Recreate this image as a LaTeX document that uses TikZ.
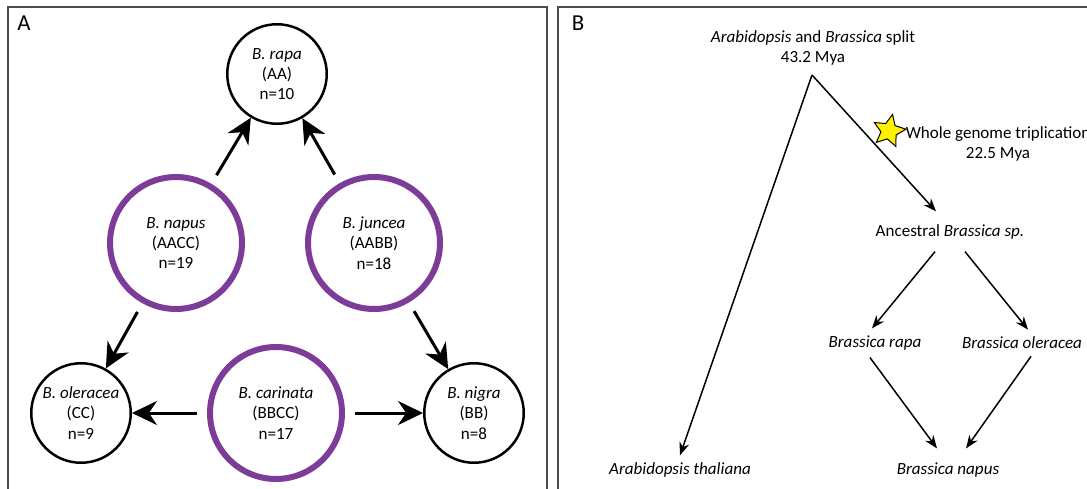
\documentclass[tikz,border=0pt]{standalone}
\usepackage{fontspec}
\setmainfont{Carlito}
\usetikzlibrary{arrows.meta,shapes.geometric}
\definecolor{hybrid}{RGB}{125,60,152}
\tikzset{
  diploid/.style={circle, draw=black, line width=0.05cm, minimum size=1.99cm, inner sep=0pt,
    align=center, font=\fontsize{9.7}{11.5}\selectfont},
  amphi/.style={diploid, draw=hybrid, line width=0.12cm, minimum size=2.64cm},
  cross/.style={line width=0.06cm, -{Stealth[length=0.5cm,width=0.48cm]}, shorten <=0.2cm},
  taxon/.style={font=\fontsize{9.7}{11.5}\selectfont, inner sep=0.14cm, align=center},
  descent/.style={line width=0.03cm, -{Stealth[length=0.26cm,width=0.2cm]}},
  panel/.style={draw=black!70, line width=0.03cm},
  panellabel/.style={font=\fontsize{13}{15}\selectfont, inner sep=0pt}
}
\begin{document}
\begin{tikzpicture}[x=0.02cm, y=-0.02cm]
\useasboundingbox (0,0) rectangle (1087,489);
\clip (0,0) rectangle (1087,489);

%two panels
\draw[panel] (8,7) rectangle (547,495);
\draw[panel] (558,7) rectangle (1095,495);
\node[panellabel] (labA) at (24,23) {A};
\node[panellabel] (labB) at (578,23) {B};

%panel A: triangle of U
\node[diploid] (rapa) at (277,74) {\textit{B. rapa}\\(AA)\\n=10};
\node[diploid] (oleracea) at (81,413) {\textit{B. oleracea}\\(CC)\\n=9};
\node[diploid] (nigra) at (474,413) {\textit{B. nigra}\\(BB)\\n=8};
\node[amphi] (napus) at (176,243) {\textit{B. napus}\\(AACC)\\n=19};
\node[amphi] (juncea) at (374,243) {\textit{B. juncea}\\(AABB)\\n=18};
\node[amphi] (carinata) at (276,413) {\textit{B. carinata}\\(BBCC)\\n=17};

\foreach \from/\to in {napus/rapa,juncea/rapa,napus/oleracea,juncea/nigra,carinata/oleracea,carinata/nigra}
  \draw[cross] (\from) -- (\to);

%panel B: history
\node[taxon] (split) at (813,48) {\textit{Arabidopsis} and \textit{Brassica} split\\43.2 Mya};
\coordinate (apex) at (812,75);
\node[taxon] (thaliana) at (680,470) {\textit{Arabidopsis thaliana}};
\node[taxon] (ancestral) at (950,232) {Ancestral \textit{Brassica sp.}};
\node[taxon] (brapa) at (875,343) {\textit{Brassica rapa}};
\node[taxon] (boleracea) at (1022,343) {\textit{Brassica oleracea}};
\node[taxon] (bnapus) at (948,470) {\textit{Brassica napus}};
\node[star, star points=5, star point ratio=2.1, draw=black, fill=yellow, line width=0.02cm,
  minimum size=0.68cm, inner sep=0pt, rotate=-12] (wgtstar) at (889,131) {};
\node[taxon, inner sep=0pt] (wgt) at (998,144) {Whole genome triplication\\22.5 Mya};

\draw[descent] (apex) -- (thaliana.north);
\draw[descent] (apex) -- ([xshift=-0.28cm,yshift=0.12cm]ancestral.north);
\draw[descent] ([xshift=-0.3cm,yshift=-0.1cm]ancestral.south) -- ([xshift=-0.06cm]brapa.north);
\draw[descent] ([xshift=0.3cm,yshift=-0.1cm]ancestral.south) -- ([xshift=0.12cm]boleracea.north);
\draw[descent] ([xshift=-0.1cm]brapa.south) -- ([xshift=-0.22cm,yshift=0.14cm]bnapus.north);
\draw[descent] ([xshift=0.18cm]boleracea.south) -- ([xshift=0.36cm,yshift=0.14cm]bnapus.north);
\end{tikzpicture}
\end{document}
